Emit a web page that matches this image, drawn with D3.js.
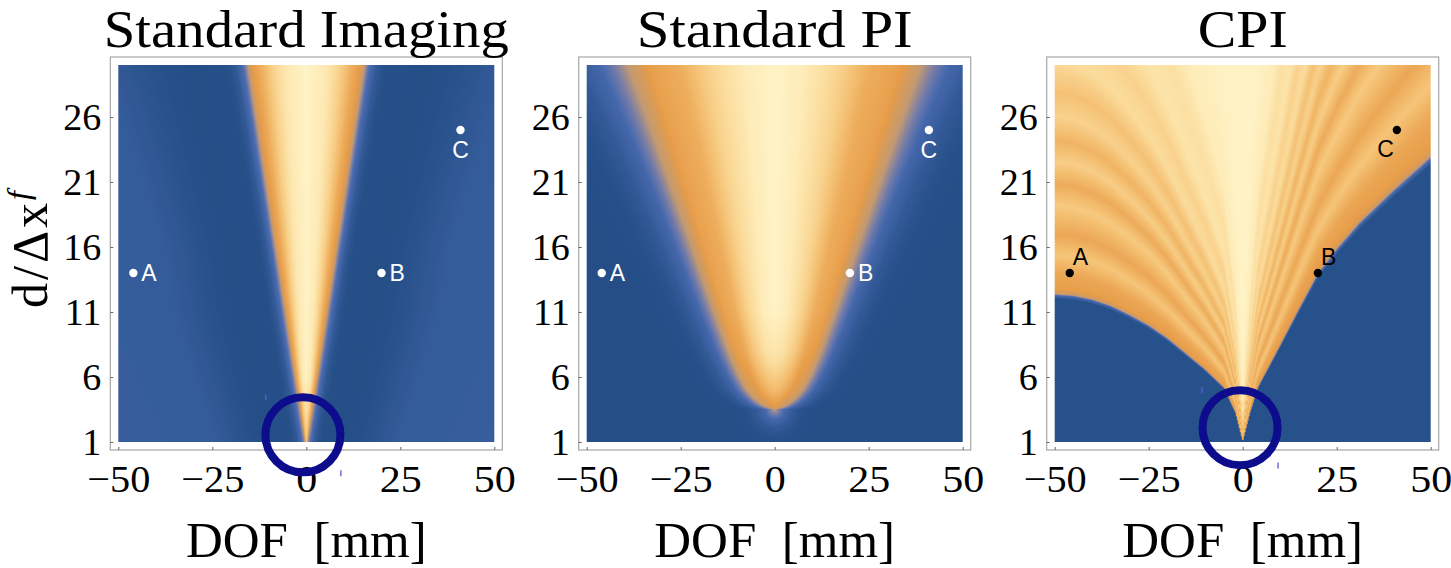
<!DOCTYPE html>
<html>
<head>
<meta charset="utf-8">
<script src="https://cdn.jsdelivr.net/npm/d3@7/dist/d3.min.js"></script>
<style>
  body { margin: 0; background: #fff; }
  svg text { font-family: "Liberation Serif", "Times New Roman", serif; fill: #000; }
  .pt-label { font-family: "Liberation Sans", Arial, sans-serif; }
</style>
</head>
<body>
<svg id="chart" width="1451" height="568"></svg>
<script>
// ---------------- data ----------------
var panelTitles = ["Standard Imaging", "Standard PI", "CPI"];
var xDomain = [-50, 50];
var yDomain = [1, 30];
var xTicks = [-50, -25, 0, 25, 50];
var xTickLabels = ["\u221250", "\u221225", "0", "25", "50"];
var yTicks = [1, 6, 11, 16, 21, 26];

// marked points A, B, C (DOF in mm, d in units of dx^f)
var pointNames = ["A", "B", "C"];
var pointDof = [-46, 20, 41];
var pointD = [14, 14, 25];

// blue circle around the apex (panel 1 and panel 3)
var circleDof = [-0.9, null, -0.7];
var circleD = [1.55, null, 2.1];
// little stray marks next to the circles
var stubDof = [[-10.8, 9.2], [], [-10.8, 9.4]];
var stubD = [[4.45, -1.4], [], [5.0, -0.8]];

// panel 1, standard imaging: half width (mm) of the bright cone per row
var siRows      = [1, 6, 11, 16, 21, 26, 30];
var siHalfWidth = [0.3, 3.0, 5.6, 8.2, 10.8, 13.4, 15.5];
var siGlow      = [0.8, 0.9, 1.0, 1.0, 1.1, 1.2, 1.3];
var siPeak      = [0.75, 1, 1, 1, 1, 1, 1];
var siTip       = 1;
var siInsideU   = [0, 0.35, 0.6, 0.8, 0.92, 1];
var siInsideV   = [1, 0.93, 0.78, 0.62, 0.55, 0.42];
var siOutMm     = [0, 1, 2.5, 5, 12, 20, 30, 60];
var siOutV      = [0.42, 0.21, 0.1, 0.04, 0.03, 0.07, 0.11, 0.12];

// panel 2, standard PI
var piRows      = [1, 3.5, 3.6, 3.75, 4.0, 4.4, 5, 6, 7, 8, 11, 14, 16, 21, 26, 30];
var piHalfWidth = [0, 0, 1.3, 2.7, 4.1, 5.7, 7.5, 9.4, 11, 12.4, 16.1, 19.7, 22, 28, 34, 39];
var piGlow      = [0.7, 0.7, 0.7, 0.7, 0.71, 0.73, 0.76, 0.8, 0.84, 0.88, 1, 1.1, 1.2, 1.4, 1.7, 2];
var piPeak      = [0.48, 0.48, 0.5, 0.53, 0.57, 0.62, 0.7, 0.78, 0.86, 0.92, 1, 1, 1, 1, 1, 1];
var piTip       = 3.5;
var piInsideU   = [0, 0.2, 0.45, 0.65, 0.85, 1];
var piInsideV   = [1, 0.95, 0.8, 0.63, 0.57, 0.42];
var piOutMm     = [0, 2, 4, 7, 12, 18, 60];
var piOutV      = [0.42, 0.28, 0.17, 0.1, 0.05, 0.03, 0.03];

// panel 3, CPI: edge of the blue region, left and right of the apex
var cpiLeftX  = [-50, -45, -40, -35, -30, -25, -20, -15, -10, -5, -2, 0];
var cpiLeftD  = [12.4, 12.3, 12.0, 11.5, 10.8, 10.0, 9.0, 7.8, 6.6, 5.2, 3.3, 1.0];
var cpiRightX = [0, 2, 4, 10, 15, 20, 25, 31, 40, 50];
var cpiRightD = [1.0, 3.3, 5.2, 8.5, 11.3, 14.0, 15.9, 17.9, 20.4, 23.0];
// fringe level against d / edge
var cpiRatio = [0.97, 0.99, 1.0, 1.03, 1.12, 1.24, 1.37, 1.55, 1.68, 1.82, 1.95, 2.1, 2.25, 2.45, 2.7, 3.0, 3.4, 3.9, 5, 8];
var cpiLevel = [0.06, 0.2, 0.45, 0.56, 0.6, 0.74, 0.6, 0.76, 0.62, 0.78, 0.66, 0.8, 0.72, 0.85, 0.8, 0.9, 0.87, 0.95, 0.98, 1];

// colour map
var colorStops = [0, 0.06, 0.12, 0.2, 0.3, 0.42, 0.55, 0.7, 0.85, 1];
var colorHex = ["#234b84", "#27518a", "#385e9d", "#4a6bb0", "#7c7fa6", "#c39a72", "#e79c48", "#f3bd6e", "#fbdc9c", "#fff3c6"];

// ---------------- layout ----------------
var W = 376, H = 377, PAD = 8;
var panelLeft = [118.3, 586.7, 1054.7], panelTop = 65;
var titleWidth = [405, 276, 90];

var svg = d3.select("#chart");

var x = d3.scaleLinear().domain(xDomain).range([0, W]);
var y = d3.scaleLinear().domain(yDomain).range([H, 0]);
// mm of DOF that take the same pixels as one unit of d
var mmPerD = (y(1) - y(2)) / (x(1) - x(0));

var color = d3.scaleLinear().domain(colorStops).range(colorHex)
    .interpolate(d3.interpolateRgb).clamp(true);
var lut = d3.range(256).map(function(i) { return d3.rgb(color(i / 255)); });

function lin(dom, ran) {
    return d3.scaleLinear().domain(dom).range(ran).clamp(true);
}

function coneField(rows, half, glow, peak, tip, inU, inV, outMm, outV) {
    var h = lin(rows, half), g = lin(rows, glow), pk = lin(rows, peak);
    var inside = lin(inU, inV), outside = lin(outMm, outV);
    var edgeV = inV[inV.length - 1];
    return function(dof, d) {
        var w = h(d), ax = Math.abs(dof);
        if (ax < w) return edgeV + (inside(ax / w) - edgeV) * (pk(d) - edgeV) / (1 - edgeV);
        var dist = ax - w;
        if (d < tip) dist = Math.sqrt(ax * ax + Math.pow((tip - d) * mmPerD, 2));
        return outside(dist / g(d));
    };
}

function fanField(lx, ld, rx, rd, ratio, level) {
    var left = lin(lx, ld), right = lin(rx, rd), band = lin(ratio, level);
    return function(dof, d) {
        var edge = dof < 0 ? left(dof) : right(dof);
        return band(d / edge);
    };
}

var fields = [
    coneField(siRows, siHalfWidth, siGlow, siPeak, siTip, siInsideU, siInsideV, siOutMm, siOutV),
    coneField(piRows, piHalfWidth, piGlow, piPeak, piTip, piInsideU, piInsideV, piOutMm, piOutV),
    fanField(cpiLeftX, cpiLeftD, cpiRightX, cpiRightD, cpiRatio, cpiLevel)
];

function drawField(g, field) {
    var canvas = document.createElement("canvas");
    canvas.width = W;
    canvas.height = H;
    var ctx = canvas.getContext("2d");
    var img = ctx.createImageData(W, H);
    for (var j = 0; j < H; j++) {
        var d = y.invert(j + 0.5);
        for (var i = 0; i < W; i++) {
            var v = field(x.invert(i + 0.5), d);
            var c = lut[Math.max(0, Math.min(255, Math.round(v * 255)))];
            var k = (j * W + i) * 4;
            img.data[k] = c.r;
            img.data[k + 1] = c.g;
            img.data[k + 2] = c.b;
            img.data[k + 3] = 255;
        }
    }
    ctx.putImageData(img, 0, 0);
    g.append("image")
        .attr("x", 0).attr("y", 0)
        .attr("width", W).attr("height", H)
        .attr("href", canvas.toDataURL());
}

var labelPlace = [
    [{dx: 8, dy: 8, anchor: "start"}, {dx: 8, dy: 8, anchor: "start"}, {dx: 0, dy: 28, anchor: "middle"}],
    [{dx: 8, dy: 8, anchor: "start"}, {dx: 8, dy: 8, anchor: "start"}, {dx: 0, dy: 28, anchor: "middle"}],
    [{dx: 3, dy: -8, anchor: "start"}, {dx: 3, dy: -8, anchor: "start"}, {dx: -3, dy: 27, anchor: "end"}]
];
var pointColor = ["#fff", "#fff", "#000"];

panelTitles.forEach(function(title, p) {
    var g = svg.append("g")
        .attr("transform", "translate(" + panelLeft[p] + "," + panelTop + ")");

    drawField(g, fields[p]);

    // frame
    g.append("rect")
        .attr("x", -PAD).attr("y", -PAD)
        .attr("width", W + 2 * PAD).attr("height", H + 2 * PAD)
        .attr("fill", "none")
        .attr("stroke", "#a6a6a6")
        .attr("stroke-width", 1.2);

    // axes
    var yAxis = d3.axisLeft(y).tickValues(yTicks).tickSize(-3).tickPadding(9);
    var gy = g.append("g").attr("transform", "translate(" + (-PAD) + ",0)").call(yAxis);
    var xAxis = d3.axisBottom(x).tickValues(xTicks).tickSize(-3).tickPadding(15)
        .tickFormat(function(d, i) { return xTickLabels[i]; });
    var gx = g.append("g").attr("transform", "translate(0," + (H + PAD) + ")").call(xAxis);
    [gx, gy].forEach(function(a) {
        a.select(".domain").remove();
        a.selectAll(".tick line").attr("stroke", "#666");
        a.selectAll("text").style("font-size", "38px")
            .style("font-family", "'Liberation Serif', serif");
    });
    gx.selectAll("text").attr("textLength", function(d, i) { return xTickLabels[i].length * 21; })
        .attr("lengthAdjust", "spacingAndGlyphs");

    // title
    svg.append("text")
        .attr("x", panelLeft[p] + W / 2)
        .attr("y", 47)
        .attr("text-anchor", "middle")
        .attr("textLength", titleWidth[p])
        .attr("lengthAdjust", "spacingAndGlyphs")
        .style("font-size", "52px")
        .text(title);

    // x axis title
    svg.append("text")
        .attr("x", panelLeft[p] + W / 2)
        .attr("y", 557)
        .attr("text-anchor", "middle")
        .style("font-size", "51px")
        .text("DOF\u00a0\u00a0[mm]");

    // points A, B, C
    pointNames.forEach(function(name, i) {
        var px = x(pointDof[i]), py = y(pointD[i]), lp = labelPlace[p][i];
        g.append("circle")
            .attr("cx", px).attr("cy", py).attr("r", 4.2)
            .attr("fill", pointColor[p]);
        g.append("text")
            .attr("class", "pt-label")
            .attr("x", px + lp.dx).attr("y", py + lp.dy)
            .attr("text-anchor", lp.anchor)
            .style("font-size", "23px")
            .style("fill", pointColor[p])
            .text(name);
    });

    // circle around the apex
    if (circleDof[p] !== null) {
        g.append("circle")
            .attr("cx", x(circleDof[p])).attr("cy", y(circleD[p]))
            .attr("r", 37.5)
            .attr("fill", "none")
            .attr("stroke", "#0c0c8c")
            .attr("stroke-width", 8);
        stubDof[p].forEach(function(sx, k) {
            g.append("line")
                .attr("x1", x(sx)).attr("x2", x(sx))
                .attr("y1", y(stubD[p][k]) - 3).attr("y2", y(stubD[p][k]) + 3)
                .attr("stroke", "#5b5bd0")
                .attr("stroke-width", 1.3);
        });
    }
});

// y axis title
var yl = svg.append("text")
    .attr("transform", "translate(47,248) rotate(-90)")
    .attr("text-anchor", "middle")
    .style("font-size", "50px")
    .style("letter-spacing", "3px");
yl.append("tspan").text("d/\u0394x");
yl.append("tspan").attr("dy", -18).style("font-size", "32px").style("font-style", "italic").text("f");
</script>
</body>
</html>
